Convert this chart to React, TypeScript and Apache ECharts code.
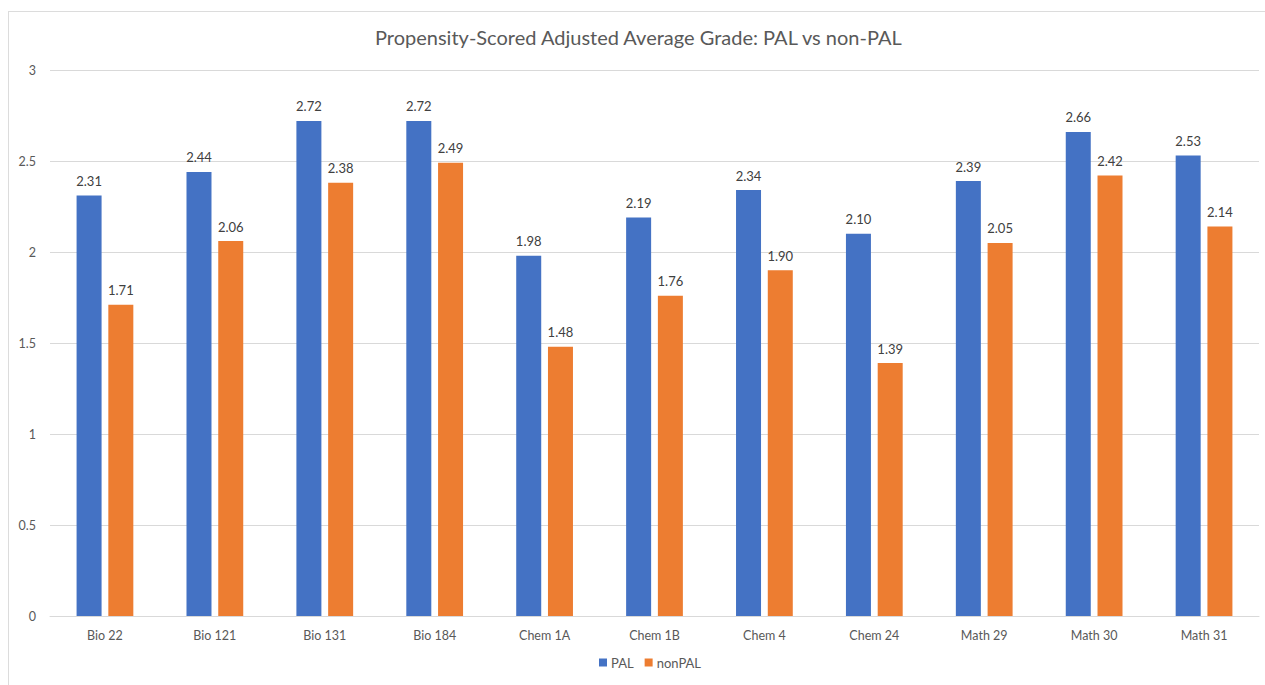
import React, { useEffect, useRef } from "react";
import * as echarts from "echarts";

const categories = ["Bio 22", "Bio 121", "Bio 131", "Bio 184", "Chem 1A", "Chem 1B", "Chem 4", "Chem 24", "Math 29", "Math 30", "Math 31"];
const palValues = [2.31, 2.44, 2.72, 2.72, 1.98, 2.19, 2.34, 2.10, 2.39, 2.66, 2.53];
const nonPalValues = [1.71, 2.06, 2.38, 2.49, 1.48, 1.76, 1.90, 1.39, 2.05, 2.42, 2.14];
const yTicks = { min: 0, max: 3, interval: 0.5 };
const titleText = "Propensity-Scored Adjusted Average Grade: PAL vs non-PAL";

const FONT = "Lato, 'Open Sans', sans-serif";

export default function App() {
  const ref = useRef<HTMLDivElement>(null);
  useEffect(() => {
    if (!ref.current) return;
    const chart = echarts.init(ref.current, undefined, { renderer: "svg" });
    const labelStyle = {
      show: true,
      position: "top" as const,
      distance: 8,
      color: "#404040",
      fontSize: 13,
      fontFamily: FONT,
      formatter: (p: any) => Number(p.value).toFixed(2),
    };
    chart.setOption({
      animation: false,
      backgroundColor: "transparent",
      graphic: [
        {
          type: "text",
          left: 375,
          top: 27,
          style: {
            text: titleText,
            fill: "#595959",
            fontSize: 20,
            fontFamily: FONT,
          },
        },
      ],
      grid: { left: 50, right: 6, top: 70, bottom: 69, containLabel: false },
      legend: {
        bottom: 11,
        left: 594,
        itemWidth: 8,
        itemHeight: 8,
        itemGap: 11,
        icon: "rect",
        textStyle: { color: "#595959", fontSize: 13, fontFamily: FONT, padding: [0, 0, 0, -1] },
        data: ["PAL", "nonPAL"],
      },
      xAxis: {
        type: "category",
        data: categories,
        axisLine: { lineStyle: { color: "#d9d9d9", width: 1 } },
        axisTick: { show: false },
        axisLabel: { color: "#595959", fontSize: 12.5, fontFamily: FONT, margin: 13 },
      },
      yAxis: {
        type: "value",
        min: yTicks.min,
        max: yTicks.max,
        interval: yTicks.interval,
        axisLine: { show: false },
        axisTick: { show: false },
        splitLine: { lineStyle: { color: "#d9d9d9", width: 1 } },
        axisLabel: { color: "#595959", fontSize: 12.5, fontFamily: FONT, margin: 14 },
      },
      series: [
        {
          name: "PAL",
          type: "bar",
          data: palValues,
          barWidth: 25,
          barGap: "27%",
          itemStyle: { color: "#4472C4" },
          label: labelStyle,
        },
        {
          name: "nonPAL",
          type: "bar",
          data: nonPalValues,
          barWidth: 25,
          itemStyle: { color: "#ED7D31" },
          label: labelStyle,
        },
      ],
    });
    return () => chart.dispose();
  }, []);
  return (
    <div style={{ position: "fixed", left: 0, top: 0, width: 1265, height: 685, background: "#fff" }}>
      <div
        style={{
          position: "absolute",
          left: 8,
          top: 11,
          width: 1300,
          height: 700,
          borderTop: "1px solid #dcdcdc",
          borderLeft: "1px solid #dcdcdc",
        }}
      />
      <div ref={ref} style={{ position: "absolute", left: 0, top: 0, width: 1265, height: 685 }} />
    </div>
  );
}
